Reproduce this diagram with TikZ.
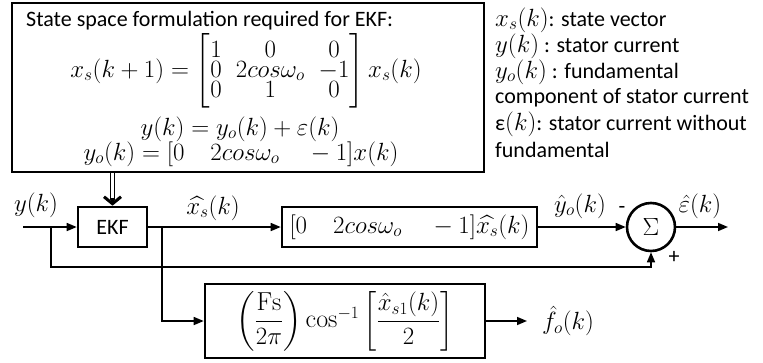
\documentclass[tikz,border=0pt]{standalone}
\usepackage{amsmath}
\usepackage{fontspec}
\usepackage{tikz}
\usetikzlibrary{arrows.meta,positioning,calc}
\newfontfamily\calib{Carlito}
\newcommand{\bigsize}{\fontsize{22}{26}\selectfont}
\newcommand{\mathsize}{\fontsize{26}{30}\selectfont}
\newcommand{\lm}[1]{{\fontsize{25}{26}\selectfont$#1$}}
\tikzset{
  blk/.style  = {draw, line width=2.6pt, inner sep=0pt,
                 minimum height=40pt, font=\mathsize},
  txt/.style  = {inner sep=0pt, font=\calib\bigsize},
  lbl/.style  = {inner sep=0pt, font=\mathsize},
  arr/.style  = {-{Triangle[length=10pt,width=8pt]}, line width=1.6pt},
  dbl/.style  = {double, double distance=2.6pt, line width=1.1pt},
  head/.style = {line width=3pt, -{Straight Barb[length=7pt,width=17pt]}},
}

\begin{document}
\begin{tikzpicture}[x=1pt, y=-1pt]
  \useasboundingbox (0,0) rectangle (763,362);
  % -- State space model ---------------------------------------------
  \node[blk, minimum width=472pt, minimum height=169pt] (model) at (248,87.5) {};
  \node[txt, anchor=west] (title) at (26,21)
    {State space formulation required for EKF:};
  \node[lbl] (stateeq) at (246,71)
    {\setlength{\arraycolsep}{7pt}%
     $x_s(k+1) = \begin{bmatrix}1 & 0 & 0\\[-10pt] 0 & 2cos\omega_o & -1\\[-10pt] 0 & 1 & 0\end{bmatrix} x_s(k)$};
  \node[lbl] (outeq) at (240,129) {$y(k) = y_o(k) + \varepsilon(k)$};
  \node[lbl] (fundeq) at (241,154)
    {$y_o(k) = [0 \quad 2cos\omega_o \quad -1]x(k)$};

  % -- Legend (right) ------------------------------------------------
  \foreach \i/\line in {1/{\lm{x_s(k)}: state vector},
                        2/{\lm{y(k)} : stator current},
                        3/{\lm{y_o(k)} : fundamental},
                        4/{component of stator current},
                        5/{ε\lm{(k)}: stator current without},
                        6/{fundamental}}{
    \node[txt, anchor=west] (leg\i) at (495, -6+26*\i) {\line};
  }

  % -- Estimator chain -----------------------------------------------
  \node[blk, minimum width=69pt, font=\calib\bigsize] (ekf) at (112.5,227) {EKF};
  \node[blk, minimum width=255pt] (meas) at (409.5,227)
    {$[0 \quad 2cos\omega_o \quad -1]\widehat{x_s}(k)$};
  \node[draw, circle, line width=2.6pt, minimum size=48pt, inner sep=0pt,
        font=\mathsize] (sum) at (651,227) {$\Sigma$};
  \node[blk, minimum width=280pt, minimum height=74pt] (freq) at (345,321)
    {$\left(\dfrac{\mathrm{Fs}}{2\pi}\right)\cos^{-1}\left[\dfrac{\hat{x}_{s1}(k)}{2}\right]$};

  \coordinate (in) at (23,227);
  \coordinate (tap) at (51,227);
  \coordinate (split) at (162,227);
  \coordinate (out) at (728,227);
  \coordinate (fout) at (527,321);

  % -- Connectors ----------------------------------------------------
  \draw[dbl] (model.south -| ekf.north) -- ([yshift=6pt]ekf.north);
  \draw[head] ([yshift=8pt]ekf.north) -- (ekf.north);
  \draw[arr] (in) -- (ekf.west);
  \draw[arr] (tap) -- ++(0,40) -| (sum.south);
  \draw[arr] (ekf.east) -- (meas.west);
  \draw[arr] (split) |- (freq.west);
  \draw[arr] (meas.east) -- (sum.west);
  \draw[arr] (sum.east) -- (out);
  \draw[arr] (freq.east) -- (fout);

  % -- Signal labels -------------------------------------------------
  \node[lbl] (ysig) at (36,205) {$y(k)$};
  \node[lbl] (xhat) at (213,208) {$\widehat{x_s}(k)$};
  \node[lbl] (yhat) at (580,206) {$\hat{y}_o(k)$};
  \node[txt] (minus) at (622,210) {-};
  \node[lbl] (ehat) at (700,206) {$\hat{\varepsilon}(k)$};
  \node[txt] (plus) at (674,257) {+};
  \node[lbl, anchor=west] (fhat) at (542,321) {$\hat{f}_o(k)$};
\end{tikzpicture}
\end{document}
